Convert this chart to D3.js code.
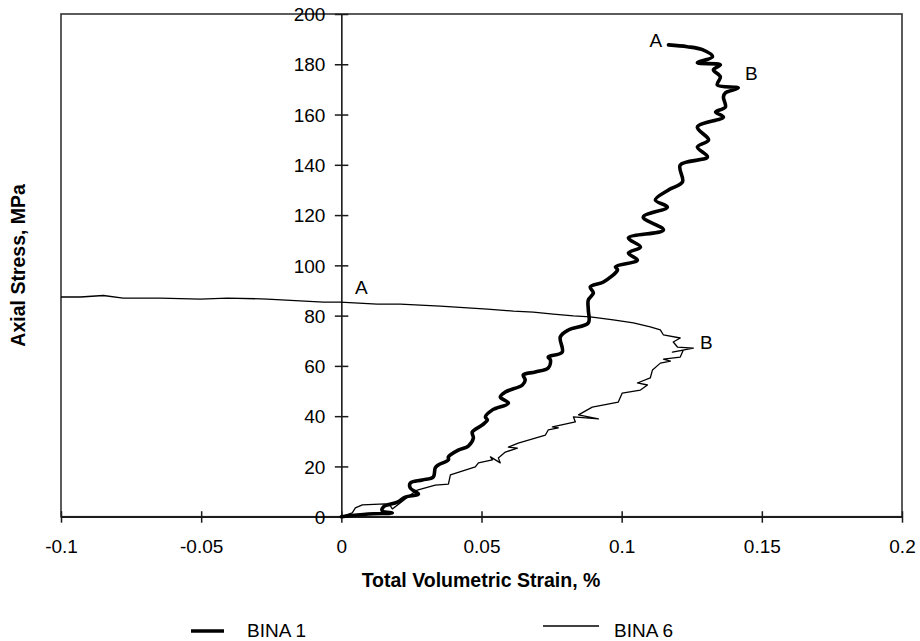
<!DOCTYPE html>
<html>
<head>
<meta charset="utf-8">
<script src="https://cdn.jsdelivr.net/npm/d3@7/dist/d3.min.js"></script>
<style>
  html, body { margin: 0; padding: 0; background: #fff; }
  svg { display: block; font-family: "Liberation Sans", Arial, sans-serif; }
</style>
</head>
<body>
<svg id="chart" width="920" height="641"></svg>
<script>
// ---- data ----
const xTicks = [-0.1, -0.05, 0, 0.05, 0.1, 0.15, 0.2];
const xTickLabels = ["-0.1", "-0.05", "0", "0.05", "0.1", "0.15", "0.2"];
const yTicks = [0, 20, 40, 60, 80, 100, 120, 140, 160, 180, 200];
const yTickLabels = ["0", "20", "40", "60", "80", "100", "120", "140", "160", "180", "200"];
const seriesNames = ["BINA 1", "BINA 6"];

// BINA 1: [volumetric strain %, axial stress MPa]
const bina1 = [
  [0,0],[0.0096,1.1],[0.0182,1.5],[0.0146,2.3],[0.0150,3.9],[0.0200,5.8],[0.0228,7.8],
  [0.0275,9.0],[0.0246,11.4],[0.0246,13.4],[0.0289,14.6],[0.0328,15.8],[0.0335,19.4],
  [0.0346,20.6],[0.0382,22.6],[0.0382,23.8],[0.0417,26.5],[0.0453,28.1],[0.0471,31.3],
  [0.0467,33.7],[0.0503,36.5],[0.0521,38.5],[0.0514,39.7],[0.0539,42.5],[0.0596,45.2],
  [0.0567,47.6],[0.0585,49.6],[0.0646,52.4],[0.0656,54.4],[0.0649,56.4],[0.0692,57.6],
  [0.0738,59.2],[0.0746,62.3],[0.0738,63.5],[0.0788,65.5],[0.0781,71.5],[0.0810,74.3],
  [0.0881,77.1],[0.0881,82.2],[0.0881,86.2],[0.0899,89.0],[0.0888,91.4],[0.0935,93.4],
  [0.0985,98.2],[0.0978,99.4],[0.1056,102.1],[0.1024,104.9],[0.1067,107.3],[0.1024,110.9],
  [0.1149,114.1],[0.1077,119.2],[0.1163,123.2],[0.1120,126.0],[0.1167,130.0],[0.1217,133.2],
  [0.1209,139.9],[0.1306,143.1],[0.1270,147.1],[0.1310,149.9],[0.1270,155.0],[0.1363,159.0],
  [0.1335,161.0],[0.1370,163.0],[0.1363,167.0],[0.1370,168.6],[0.1416,170.6],[0.1341,171.8],
  [0.1352,175.0],[0.1327,177.8],[0.1352,179.8],[0.1270,180.6],[0.1324,183.0],[0.1288,185.8],
  [0.1234,187.0],[0.1167,187.7]
];

// BINA 6: [volumetric strain %, axial stress MPa]
const bina6 = [
  [0,0],[0.0039,1.5],[0.0050,3.5],[0.0075,4.7],[0.0157,5.1],[0.0175,4.3],[0.0182,3.1],
  [0.0210,5.5],[0.0246,8.6],[0.0271,10.6],[0.0335,12.6],[0.0382,13.0],[0.0389,16.6],
  [0.0478,19.8],[0.0489,21.4],[0.0539,22.6],[0.0532,23.8],[0.0567,21.4],[0.0560,23.4],
  [0.0585,25.7],[0.0628,27.3],[0.0596,27.7],[0.0631,29.3],[0.0728,32.5],[0.0738,34.5],
  [0.0774,35.3],[0.0753,35.7],[0.0835,37.7],[0.0828,39.7],[0.0917,38.9],[0.0846,40.5],
  [0.0895,43.6],[0.0988,45.6],[0.1002,49.2],[0.1067,50.4],[0.1092,52.4],[0.1056,53.2],
  [0.1102,55.2],[0.1110,58.4],[0.1138,61.1],[0.1174,61.9],[0.1149,62.7],[0.1209,63.5],
  [0.1220,66.3],[0.1181,65.5],[0.1256,67.1],[0.1199,67.5],[0.1184,69.5],[0.1209,71.1],
  [0.1149,72.3],[0.1138,74.3],[0.1102,75.5],[0.1042,77.1],[0.0970,78.3],[0.0888,79.5],
  [0.0828,79.9],[0.0756,80.6],[0.0685,81.4],[0.0614,81.8],[0.0521,82.6],[0.0353,83.8],
  [0.0210,84.6],[0.0128,84.6],[-0.0004,85.4],[-0.0064,85.4],[-0.0264,86.6],[-0.0407,87.0],
  [-0.0503,86.6],[-0.0646,87.0],[-0.0778,87.0],[-0.0849,88.0],[-0.0931,87.4],[-0.1,87.4]
];

// point labels: [text, strain, stress]
const pointLabels = [
  ["A", 0.1122, 189.5],
  ["B", 0.1463, 176.4],
  ["A", 0.0071, 91.2],
  ["B", 0.1302, 69.4]
];

// ---- chart ----
const svg = d3.select("#chart");
svg.append("rect").attr("width", 920).attr("height", 641).attr("fill", "#fff");

const x = d3.scaleLinear().domain([-0.1, 0.2]).range([61, 902]);
const y = d3.scaleLinear().domain([0, 200]).range([516.7, 14]);

const axisColor = "#1a1a1a";

// frame
svg.append("rect")
  .attr("x", x(-0.1)).attr("y", y(200))
  .attr("width", x(0.2) - x(-0.1)).attr("height", y(0) - y(200))
  .attr("fill", "none").attr("stroke", "#333").attr("stroke-width", 1.6);

// x axis
const xAxis = d3.axisBottom(x).tickValues(xTicks)
  .tickFormat((d, i) => xTickLabels[i]).tickSizeOuter(0);
const gx = svg.append("g").attr("transform", `translate(0,${y(0)})`).call(xAxis);
gx.select(".domain").attr("stroke", axisColor).attr("stroke-width", 1.8);
gx.selectAll(".tick line").attr("y1", -5.5).attr("y2", 6).attr("stroke", axisColor).attr("stroke-width", 1.5);
gx.selectAll(".tick text").attr("y", 23).attr("dy", "0.71em")
  .attr("font-size", "19px").attr("fill", "#000")
  .attr("font-family", "'Liberation Sans', Arial, sans-serif");

// y axis at x = 0
const yAxis = d3.axisLeft(y).tickValues(yTicks)
  .tickFormat((d, i) => yTickLabels[i]).tickSizeOuter(0);
const gy = svg.append("g").attr("transform", `translate(${x(0)},0)`).call(yAxis);
gy.select(".domain").attr("stroke", axisColor).attr("stroke-width", 1.6);
gy.selectAll(".tick line").attr("x1", -6.5).attr("x2", 7).attr("stroke", axisColor).attr("stroke-width", 1.5);
gy.selectAll(".tick text").attr("x", -16).attr("dy", "0.35em")
  .attr("font-size", "19px").attr("fill", "#000")
  .attr("font-family", "'Liberation Sans', Arial, sans-serif");

// axis titles
svg.append("text")
  .attr("x", 481).attr("y", 587)
  .attr("text-anchor", "middle")
  .attr("font-size", "19.5px").attr("font-weight", "bold")
  .text("Total Volumetric Strain, %");

svg.append("text")
  .attr("transform", `translate(25,${(y(0) + y(200)) / 2}) rotate(-90)`)
  .attr("text-anchor", "middle")
  .attr("font-size", "19.5px").attr("font-weight", "bold")
  .text("Axial Stress, MPa");

// lines
const line = d3.line().x(d => x(d[0])).y(d => y(d[1]));

svg.append("path")
  .datum(bina6)
  .attr("d", line.curve(d3.curveLinear))
  .attr("fill", "none").attr("stroke", "#000").attr("stroke-width", 1.3)
  .attr("stroke-linejoin", "round");

svg.append("path")
  .datum(bina1)
  .attr("d", d3.line().x(d => x(d[0])).y(d => y(d[1])).curve(d3.curveCatmullRom.alpha(0.5)))
  .attr("fill", "none").attr("stroke", "#000").attr("stroke-width", 3.6)
  .attr("stroke-linejoin", "round").attr("stroke-linecap", "round");

// point labels
svg.selectAll(".plabel").data(pointLabels).enter().append("text")
  .attr("class", "plabel")
  .attr("x", d => x(d[1])).attr("y", d => y(d[2]))
  .attr("text-anchor", "middle").attr("dy", "0.35em")
  .attr("font-size", "19px")
  .text(d => d[0]);

// legend
const legend = [
  { name: seriesNames[0], x1: 191, x2: 224, ly: 631, w: 3.4, tx: 247 },
  { name: seriesNames[1], x1: 543, x2: 599, ly: 626, w: 1.3, tx: 614 }
];
const lg = svg.append("g");
legend.forEach(l => {
  lg.append("line").attr("x1", l.x1).attr("x2", l.x2).attr("y1", l.ly).attr("y2", l.ly)
    .attr("stroke", "#000").attr("stroke-width", l.w);
  lg.append("text").attr("x", l.tx).attr("y", 637)
    .attr("font-size", "19px").text(l.name);
});
</script>
</body>
</html>
